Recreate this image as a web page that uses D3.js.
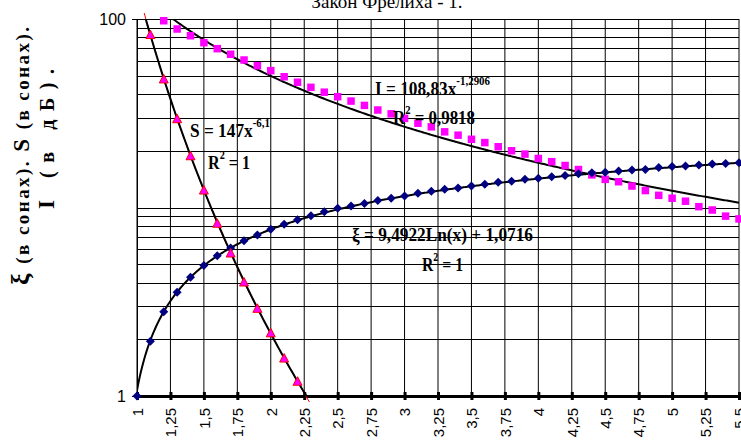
<!DOCTYPE html>
<html>
<head>
<meta charset="utf-8">
<script src="https://cdn.jsdelivr.net/npm/d3@7/dist/d3.min.js"></script>
<style>
  body { margin: 0; background: #fff; }
  svg { display: block; }
</style>
</head>
<body>
<svg width="741" height="441"></svg>
<script>
// tick values of the x axis
const xTicks = [1, 1.25, 1.5, 1.75, 2, 2.25, 2.5, 2.75, 3, 3.25, 3.5, 3.75, 4, 4.25, 4.5, 4.75, 5, 5.25, 5.5];
const yTickLabels = [100, 1];
const yGrid = [1, 2, 3, 4, 5, 6, 7, 8, 9, 10, 20, 30, 40, 50, 60, 70, 80, 90, 100];

// I (magenta squares)
const xI = [1.2, 1.3, 1.4, 1.5, 1.6, 1.7, 1.8, 1.9, 2.0, 2.1, 2.2, 2.3, 2.4, 2.5, 2.6, 2.7, 2.8, 2.9, 3.0,
  3.1, 3.2, 3.3, 3.4, 3.5, 3.6, 3.7, 3.8, 3.9, 4.0, 4.1, 4.2, 4.3, 4.4, 4.5, 4.6, 4.7, 4.8, 4.9, 5.0,
  5.1, 5.2, 5.3, 5.4, 5.5];
const valI = [97.9, 88.5, 81.5, 74.9, 69.6, 65.0, 60.6, 56.5, 53.2, 49.4, 46.2, 43.4, 40.9, 38.7, 36.7, 34.8, 32.9, 31.4, 29.7,
  28.0, 26.8, 25.2, 24.2, 23.0, 22.1, 21.0, 20.0, 19.2, 18.2, 17.5, 16.7, 15.9, 14.9, 14.1, 13.7, 13.0, 12.3, 11.6, 11.2,
  10.8, 10.1, 9.7, 9.0, 8.7];

// xi (navy diamonds)
const xXi = [1.0, 1.1, 1.2, 1.3, 1.4, 1.5, 1.6, 1.7, 1.8, 1.9, 2.0, 2.1, 2.2, 2.3, 2.4, 2.5, 2.6, 2.7, 2.8, 2.9, 3.0,
  3.1, 3.2, 3.3, 3.4, 3.5, 3.6, 3.7, 3.8, 3.9, 4.0, 4.1, 4.2, 4.3, 4.4, 4.5, 4.6, 4.7, 4.8, 4.9, 5.0,
  5.1, 5.2, 5.3, 5.4, 5.5];
const valXi = [1.0, 1.95, 2.80, 3.55, 4.26, 4.92, 5.55, 6.1, 6.67, 7.15, 7.66, 8.14, 8.6, 9.05, 9.5, 9.9, 10.2, 10.5, 10.9, 11.2, 11.5,
  11.9, 12.2, 12.5, 12.7, 13.0, 13.3, 13.6, 13.8, 14.1, 14.3, 14.55, 14.8, 15.1, 15.3, 15.4, 15.6, 15.8, 15.9, 16.3, 16.5,
  16.6, 16.8, 17.0, 17.1, 17.3];

// S (triangles)
const xS = [1.0, 1.1, 1.2, 1.3, 1.4, 1.5, 1.6, 1.7, 1.8, 1.9, 2.0, 2.1, 2.2, 2.3];
const valS = [147, 82.2, 47.8, 29.4, 18.7, 12.3, 8.2, 5.7, 4.0, 2.9, 2.15, 1.58, 1.19, 0.9];

// trend lines: [a, b, xFrom, xTo]
const trendI = [144, -1.53, 1.2, 5.5];      // a * x^b
const trendS = [147, -6.1, 1.0, 2.3];       // a * x^b
const trendXi = [9.4922, 1.0716, 1.0, 5.5]; // a * ln(x) + b

const svg = d3.select('svg');
const margin = { top: 19, right: 2, bottom: 45, left: 137 };
const width = 741 - margin.left - margin.right;
const height = 441 - margin.top - margin.bottom;

const x = d3.scaleLinear().domain([1, 5.5]).range([margin.left, margin.left + width]);
const y = d3.scaleLog().domain([1, 100]).range([margin.top + height, margin.top]);

const serif = '"Times New Roman", "Liberation Serif", serif';
const sans = 'Arial, "Liberation Sans", sans-serif';

const defs = svg.append('defs');
defs.append('clipPath').attr('id', 'plot')
  .append('rect').attr('x', margin.left).attr('y', margin.top).attr('width', width).attr('height', height);
defs.append('clipPath').attr('id', 'wide')
  .append('rect').attr('x', margin.left).attr('y', margin.top - 6).attr('width', width).attr('height', height + 12);

// title (cut at top)
svg.append('text')
  .attr('x', 387).attr('y', 8)
  .attr('text-anchor', 'middle')
  .style('font-family', serif).style('font-size', '19px')
  .text('Закон Фрелиха - 1.');

// grid
svg.append('g').selectAll('line').data(yGrid).enter().append('line')
  .attr('x1', margin.left).attr('x2', margin.left + width)
  .attr('y1', d => Math.round(y(d)) + 0.5).attr('y2', d => Math.round(y(d)) + 0.5)
  .attr('stroke', '#000').attr('stroke-width', 1);

svg.append('g').selectAll('line').data(xTicks).enter().append('line')
  .attr('x1', d => x(d)).attr('x2', d => x(d))
  .attr('y1', margin.top).attr('y2', margin.top + height)
  .attr('stroke', '#000').attr('stroke-width', 1);

// y axis
svg.append('line')
  .attr('x1', margin.left + 0.5).attr('x2', margin.left + 0.5)
  .attr('y1', margin.top).attr('y2', margin.top + height)
  .attr('stroke', '#000');
svg.append('g').selectAll('line').data(yTickLabels).enter().append('line')
  .attr('x1', margin.left - 5).attr('x2', margin.left)
  .attr('y1', d => Math.round(y(d)) + 0.5).attr('y2', d => Math.round(y(d)) + 0.5)
  .attr('stroke', '#000');
svg.append('g').selectAll('text').data(yTickLabels).enter().append('text')
  .attr('x', margin.left - 11).attr('y', d => y(d) + 6)
  .attr('text-anchor', 'end')
  .style('font-family', sans).style('font-size', '16px')
  .text(d => d);

// x axis
const xAxis = svg.append('g')
  .attr('transform', 'translate(0,' + (margin.top + height) + ')')
  .call(d3.axisBottom(x).tickValues(xTicks).tickSize(0).tickPadding(0)
    .tickFormat(d => String(d).replace('.', ',')));
xAxis.select('.domain').attr('stroke', '#000').attr('stroke-width', 3);
xAxis.selectAll('.tick').append('line')
  .attr('y1', -4).attr('y2', 4).attr('stroke', '#000').attr('stroke-width', 3);
xAxis.selectAll('.tick text')
  .attr('transform', 'rotate(-90)')
  .attr('x', -12).attr('y', 0).attr('dy', '0.35em')
  .attr('text-anchor', 'end')
  .style('font-family', sans).style('font-size', '15px').attr('fill', '#000');

// y title
const yt1 = svg.append('text')
  .attr('transform', 'translate(29,156) rotate(-90)')
  .attr('text-anchor', 'middle')
  .style('font-family', serif).style('font-weight', 'bold').style('font-size', '19px')
  .attr('textLength', 258).attr('lengthAdjust', 'spacing');
yt1.append('tspan').style('font-size', '26px').text('ξ');
yt1.append('tspan').text(' (в сонах).  ');
yt1.append('tspan').style('font-size', '23px').text('S');
yt1.append('tspan').text(' (в сонах).');
const yt2 = svg.append('text')
  .attr('transform', 'translate(54,139) rotate(-90)')
  .attr('text-anchor', 'middle')
  .style('font-family', serif).style('font-weight', 'bold').style('font-size', '20px')
  .attr('textLength', 140).attr('lengthAdjust', 'spacing');
yt2.append('tspan').style('font-size', '23px').text('I');
yt2.append('tspan').text(' (в дБ).');

// S series line (thin red)
const sPts = xS.map((d, i) => [d, valS[i]]);
svg.append('path')
  .datum(sPts)
  .attr('clip-path', 'url(#wide)')
  .attr('fill', 'none').attr('stroke', '#ff0000').attr('stroke-width', 1)
  .attr('d', d3.line().x(d => x(d[0])).y(d => y(d[1])));

// trend lines
function powerPts(t) {
  return d3.range(t[2], t[3] + 0.0001, 0.01).map(v => [v, t[0] * Math.pow(v, t[1])]);
}
function logPts(t) {
  return d3.range(t[2], t[3] + 0.0001, 0.01).map(v => [v, t[0] * Math.log(v) + t[1]]);
}
const trendLine = d3.line().x(d => x(d[0])).y(d => y(Math.max(d[1], 0.01)));
[powerPts(trendI), powerPts(trendS), logPts(trendXi)].forEach(pts => {
  svg.append('path')
    .datum(pts)
    .attr('clip-path', 'url(#plot)')
    .attr('fill', 'none').attr('stroke', '#000').attr('stroke-width', 2)
    .attr('d', trendLine);
});

// markers
svg.append('g').selectAll('rect').data(xI).enter().append('rect')
  .attr('x', d => x(d) - 3.75).attr('y', (d, i) => y(valI[i]) - 3.75)
  .attr('width', 7.5).attr('height', 7.5)
  .attr('fill', '#ff00ff');

svg.append('g').selectAll('path').data(xXi).enter().append('path')
  .attr('transform', (d, i) => 'translate(' + x(d) + ',' + y(valXi[i]) + ')')
  .attr('d', 'M0,-4.5L4.5,0L0,4.5L-4.5,0Z')
  .attr('fill', '#000080');

svg.append('g').selectAll('path').data(sPts.filter(d => d[1] >= 1 && d[1] <= 100)).enter().append('path')
  .attr('transform', d => 'translate(' + x(d[0]) + ',' + y(d[1]) + ')')
  .attr('d', 'M0,-5L4.5,3.5L-4.5,3.5Z')
  .attr('fill', '#ff00ff').attr('stroke', '#ff0000').attr('stroke-width', 1);

// equation labels: main text, optional superscript, optional tail, full width
function eq(px, py, main, sup, tail, w) {
  const t = svg.append('text')
    .attr('x', px).attr('y', py)
    .attr('textLength', w).attr('lengthAdjust', 'spacingAndGlyphs')
    .style('font-family', serif).style('font-weight', 'bold').style('font-size', '19px');
  t.append('tspan').text(main);
  if (sup) t.append('tspan').attr('dy', -10).style('font-size', '12px').text(sup);
  if (tail) t.append('tspan').attr('dy', 10).text(tail);
  return t;
}
eq(375, 95, 'I = 108,83x', '-1,2906', null, 115);
eq(393, 124, 'R', '2', ' = 0,9818', 82);
eq(190, 137, 'S = 147x', '-6,1', null, 80);
eq(208, 169, 'R', '2', ' = 1', 42);
eq(352, 241, 'ξ = 9,4922Ln(x) + 1,0716', null, null, 181);
eq(422, 271, 'R', '2', ' = 1', 41);
</script>
</body>
</html>
